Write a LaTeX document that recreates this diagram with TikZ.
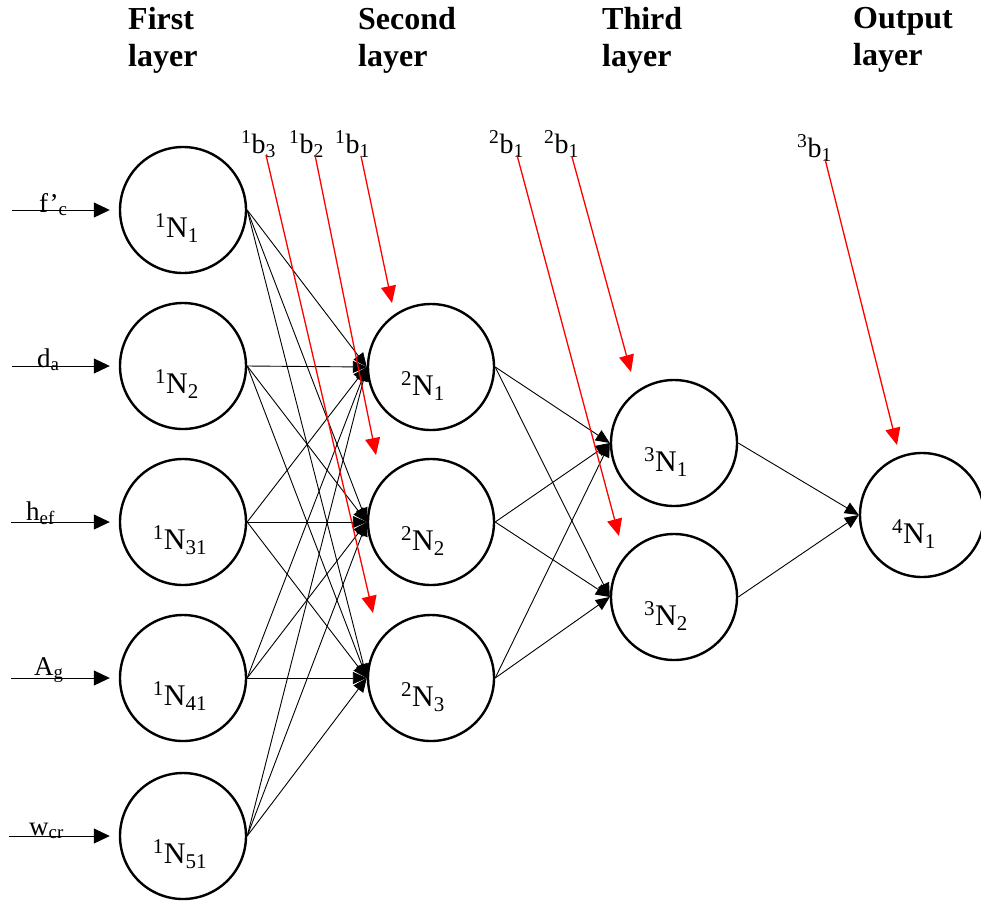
\documentclass[tikz,border=0pt]{standalone}
\usepackage{fontspec}
\setmainfont{Liberation Serif}
\usetikzlibrary{arrows.meta}
\tikzset{
  neuron/.style={circle, draw, line width=2.4pt, minimum size=126pt, inner sep=0pt},
  nlab/.style={anchor=base, inner sep=0pt, font=\fontsize{30}{30}\selectfont},
  inlab/.style={anchor=base west, inner sep=0pt, font=\fontsize{27}{27}\selectfont},
  blab/.style={anchor=base west, inner sep=0pt, font=\fontsize{28}{28}\selectfont},
  ttl/.style={anchor=north west, inner sep=0pt, align=left, font=\fontsize{32}{37}\selectfont\bfseries},
  conn/.style={line width=0.9pt, -{Triangle[length=14pt,width=12pt]}},
  inarrow/.style={line width=1pt, -{Triangle[length=16pt,width=15pt]}},
  bias/.style={red, line width=1.3pt, -{Triangle[length=17pt,width=15pt]}}
}
\begin{document}
\begin{tikzpicture}[x=1pt,y=-1pt]
\useasboundingbox (0,0) rectangle (981,900);
% titles
\node[ttl] (ttlA) at (128,7) {First\\layer};
\node[ttl] (ttlB) at (358,7) {Second\\layer};
\node[ttl] (ttlC) at (602,7) {Third\\layer};
\node[ttl] (ttlD) at (853,7) {Output\\layer};
% neurons
\node[neuron] (a1) at (183,210) {};
\node[neuron] (a2) at (183,366) {};
\node[neuron] (a3) at (183,522) {};
\node[neuron] (a4) at (183,678) {};
\node[neuron] (a5) at (183,836) {};
\node[neuron] (b1) at (431,367) {};
\node[neuron] (b2) at (431,522) {};
\node[neuron] (b3) at (431,678) {};
\node[neuron] (c1) at (674,443) {};
\node[neuron] (c2) at (674,597) {};
\node[neuron, minimum size=124pt] (d1) at (922,515) {};
% neuron labels
\node[nlab] (ta1) at (177,237) {\textsuperscript{1}N\textsubscript{1}};
\node[nlab] (ta2) at (177,393) {\textsuperscript{1}N\textsubscript{2}};
\node[nlab] (ta3) at (180,549) {\textsuperscript{1}N\textsubscript{31}};
\node[nlab] (ta4) at (180,705) {\textsuperscript{1}N\textsubscript{41}};
\node[nlab] (ta5) at (180,863) {\textsuperscript{1}N\textsubscript{51}};
\node[nlab] (tb1) at (423,395) {\textsuperscript{2}N\textsubscript{1}};
\node[nlab] (tb2) at (423,550) {\textsuperscript{2}N\textsubscript{2}};
\node[nlab] (tb3) at (423,706) {\textsuperscript{2}N\textsubscript{3}};
\node[nlab] (tc1) at (666,471) {\textsuperscript{3}N\textsubscript{1}};
\node[nlab] (tc2) at (666,625) {\textsuperscript{3}N\textsubscript{2}};
\node[nlab] (td1) at (914,543) {\textsuperscript{4}N\textsubscript{1}};
% inputs
\coordinate (i1) at (12,210);
\coordinate (i2) at (12,366);
\coordinate (i3) at (11,522);
\coordinate (i4) at (11,678);
\coordinate (i5) at (9,836);
\draw[inarrow] (i1) -- ([xshift=-9pt]a1.west);
\draw[inarrow] (i2) -- ([xshift=-9pt]a2.west);
\draw[inarrow] (i3) -- ([xshift=-9pt]a3.west);
\draw[inarrow] (i4) -- ([xshift=-9pt]a4.west);
\draw[inarrow] (i5) -- ([xshift=-9pt]a5.west);
\node[inlab] (l1) at (39,212) {f’\textsubscript{c}};
\node[inlab] (l2) at (37,367) {d\textsubscript{a}};
\node[inlab] (l3) at (26,520) {h\textsubscript{ef}};
\node[inlab] (l4) at (34,675) {A\textsubscript{g}};
\node[inlab] (l5) at (29,835) {w\textsubscript{cr}};
% connections layer 1 -> 2
\foreach \s in {a1,a2,a3,a4,a5}{
  \foreach \t in {b1,b2,b3}{
    \draw[conn] (\s.east) -- (\t.west);
  }
}
% layer 2 -> 3
\foreach \s in {b1,b2,b3}{
  \foreach \t in {c1,c2}{
    \draw[conn] (\s.east) -- (\t.west);
  }
}
% layer 3 -> 4
\draw[conn] (c1.east) -- (d1.west);
\draw[conn] (c2.east) -- (d1.west);
% bias labels
\node[blab] (lb13) at (241,153) {\textsuperscript{1}b\textsubscript{3}};
\node[blab] (lb12) at (289,153) {\textsuperscript{1}b\textsubscript{2}};
\node[blab] (lb11) at (335,153) {\textsuperscript{1}b\textsubscript{1}};
\node[blab] (lb21) at (489,153) {\textsuperscript{2}b\textsubscript{1}};
\node[blab] (lb22) at (544,153) {\textsuperscript{2}b\textsubscript{1}};
\node[blab] (lb31) at (797,157) {\textsuperscript{3}b\textsubscript{1}};
% bias arrows
\coordinate (s13) at (266,155);
\coordinate (s12) at (315,155);
\coordinate (s11) at (361,156);
\coordinate (s21) at (517,155);
\coordinate (s22) at (572,157);
\coordinate (s31) at (825,159);
\coordinate (e13) at (373,613);
\coordinate (e12) at (376,455);
\coordinate (e11) at (392,303);
\coordinate (e21) at (619,536);
\coordinate (e22) at (631,372);
\coordinate (e31) at (897,445);
\draw[bias] (s13) -- (e13);
\draw[bias] (s12) -- (e12);
\draw[bias] (s11) -- (e11);
\draw[bias] (s21) -- (e21);
\draw[bias] (s22) -- (e22);
\draw[bias] (s31) -- (e31);
\end{tikzpicture}
\end{document}
